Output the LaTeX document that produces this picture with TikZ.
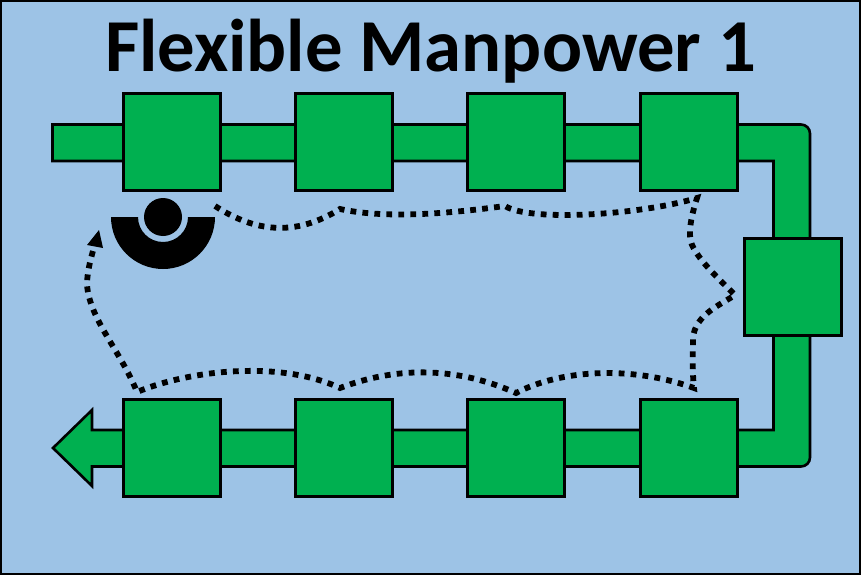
\documentclass[tikz,border=0pt]{standalone}
\usepackage{fontspec}
\setmainfont{Carlito}
\usetikzlibrary{arrows.meta}
\definecolor{bgblue}{HTML}{9DC3E6}
\definecolor{boxgreen}{HTML}{00B050}
\tikzset{
  stationbox/.style={draw=black,fill=boxgreen,line width=3pt,minimum width=97pt,minimum height=97pt,inner sep=0pt,outer sep=0pt},
  beltshape/.style={draw=black,fill=boxgreen,line width=2.6pt,line join=miter},
  walk/.style={draw=black,line width=5.8pt,dash pattern=on 5.8pt off 6.2pt},
  worker/.style={fill=black,draw=none}
}
\begin{document}
\begin{tikzpicture}[x=1pt,y=-1pt]
\useasboundingbox (0,0) rectangle (861,575);
\draw[fill=bgblue,draw=black,line width=2.5pt] (1,1) rectangle (860,574);
\node[font=\bfseries,anchor=base,inner sep=0pt] (title) at (430.5,72) {\fontsize{74.7}{75}\selectfont Flexible Manpower 1};
% belt
\draw[beltshape] (52.5,124.5) -- (801,124.5) arc[start angle=-90,end angle=0,radius=9] -- (810,457.5) arc[start angle=0,end angle=90,radius=9] -- (92,466.5) -- (92,486) -- (53,448) -- (92,410) -- (92,430) -- (773.5,430) -- (773.5,161) -- (52.5,161) -- cycle;
% stations
\node[stationbox] (t1) at (171.5,142) {};
\node[stationbox] (t2) at (343.5,142) {};
\node[stationbox] (t3) at (516,142) {};
\node[stationbox] (t4) at (688.5,142) {};
\node[stationbox] (r) at (792.5,287) {};
\node[stationbox] (b1) at (171.5,448) {};
\node[stationbox] (b2) at (343.5,448) {};
\node[stationbox] (b3) at (516,448) {};
\node[stationbox] (b4) at (688.5,448) {};
% worker
\fill[worker] (111,217) arc[start angle=180,end angle=0,radius=52] -- (188,217) arc[start angle=0,end angle=180,radius=25] -- cycle;
\node[worker,circle,minimum size=38pt,inner sep=0pt] (head) at (163,217) {};
% walking path
\coordinate (p0) at (215,206);
\coordinate (p1) at (340,209);
\coordinate (p2) at (505,206);
\coordinate (p3) at (697,198);
\coordinate (p4) at (735,295);
\coordinate (p5) at (694,388);
\coordinate (p6) at (516,393);
\coordinate (p7) at (340,388);
\coordinate (p8) at (137,392);
\coordinate (p9) at (99,230);
\path[walk] (p0) .. controls (255,232) and (295,237) .. (p1)
 .. controls (390,220) and (460,212) .. (p2)
 .. controls (530,222) and (640,215) .. (p3)
 .. controls (690,220) and (688,235) .. (692,245)
 .. controls (700,262) and (720,280) .. (p4)
 .. controls (720,305) and (695,315) .. (693,338)
 .. controls (693,350) and (692,370) .. (p5)
 .. controls (630,365) and (560,370) .. (p6)
 .. controls (460,368) and (400,365) .. (p7)
 .. controls (280,360) and (190,370) .. (p8)
 .. controls (120,350) and (90,320) .. (87,285)
 .. controls (87,270) and (92,255) .. (94,247);
\fill[black] (p9) -- (103,248) -- (87,245) -- cycle;
\end{tikzpicture}
\end{document}
